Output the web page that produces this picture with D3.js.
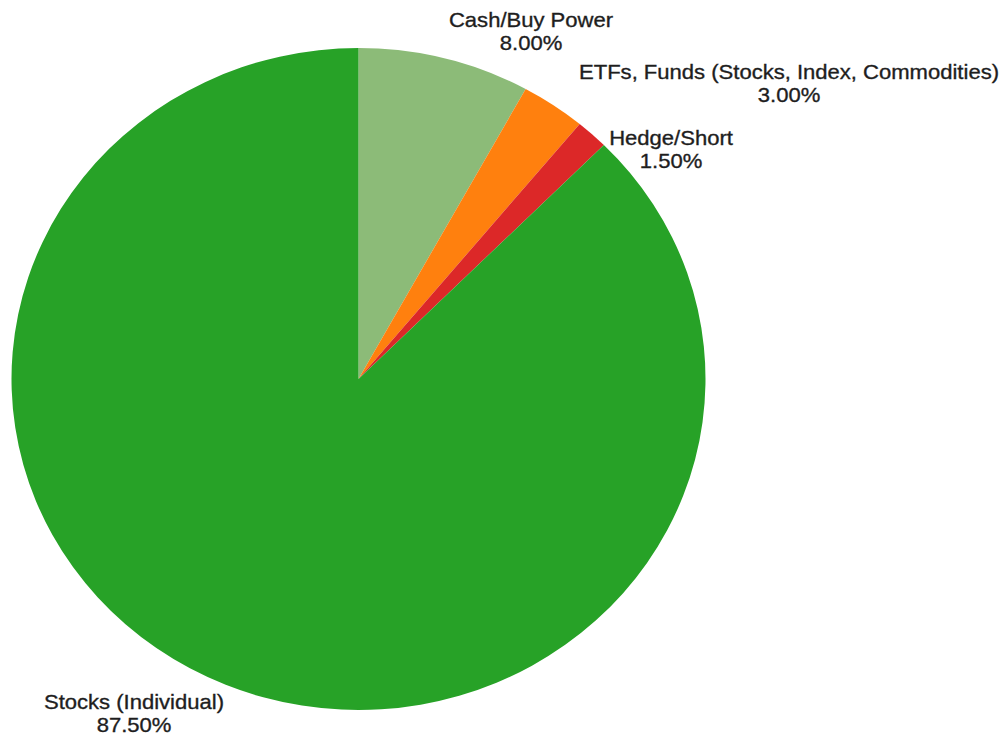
<!DOCTYPE html>
<html>
<head>
<meta charset="utf-8">
<script src="https://cdn.jsdelivr.net/npm/d3@7"></script>
<style>
  html, body { margin: 0; padding: 0; background: #fff; }
  svg { display: block; }
  text { font-family: "Liberation Sans", Arial, Helvetica, sans-serif; fill: #1e1e1e; stroke: #1e1e1e; stroke-width: 0.35px; }
</style>
</head>
<body>
<svg id="chart" width="1003" height="737"></svg>
<script>
// ---- data ----
const categories = ["Cash/Buy Power", "ETFs, Funds (Stocks, Index, Commodities)", "Hedge/Short", "Stocks (Individual)"];
const values = [8.00, 3.00, 1.50, 87.50];
const valueLabels = ["8.00%", "3.00%", "1.50%", "87.50%"];
const colors = ["#8cbb78", "#ff800e", "#dc2828", "#27a227"];

// ---- layout ----
const W = 1003, H = 737;
const cx = 358.5, cy = 379, ry = 331, stretchX = 347 / 331;
const fontSize = 21, textStretch = 1.05, lineGap = 23;
// label anchor (center x, first baseline y) per category
const labelLayout = [
  { x: 531, y: 27 },
  { x: 789, y: 79 },
  { x: 671, y: 145 },
  { x: 134, y: 709 }
];

const svg = d3.select("#chart");
const data = categories.map((c, i) => ({ name: c, value: values[i], label: valueLabels[i], color: colors[i] }));

const pie = d3.pie().value(d => d.value).sort(null).startAngle(0).endAngle(2 * Math.PI);
const arc = d3.arc().innerRadius(0).outerRadius(ry);

const g = svg.append("g").attr("transform", `translate(${cx},${cy}) scale(${stretchX},1)`);
g.selectAll("path")
  .data(pie(data))
  .join("path")
  .attr("d", arc)
  .attr("fill", d => d.data.color);

const labels = svg.append("g");
data.forEach((d, i) => {
  const t = labels.append("text")
    .attr("transform", `translate(${labelLayout[i].x},${labelLayout[i].y}) scale(${textStretch},1)`)
    .attr("text-anchor", "middle")
    .style("font-size", fontSize + "px");
  t.append("tspan").attr("x", 0).attr("y", 0).text(d.name);
  t.append("tspan").attr("x", 0).attr("y", lineGap).text(d.label);
});
</script>
</body>
</html>
